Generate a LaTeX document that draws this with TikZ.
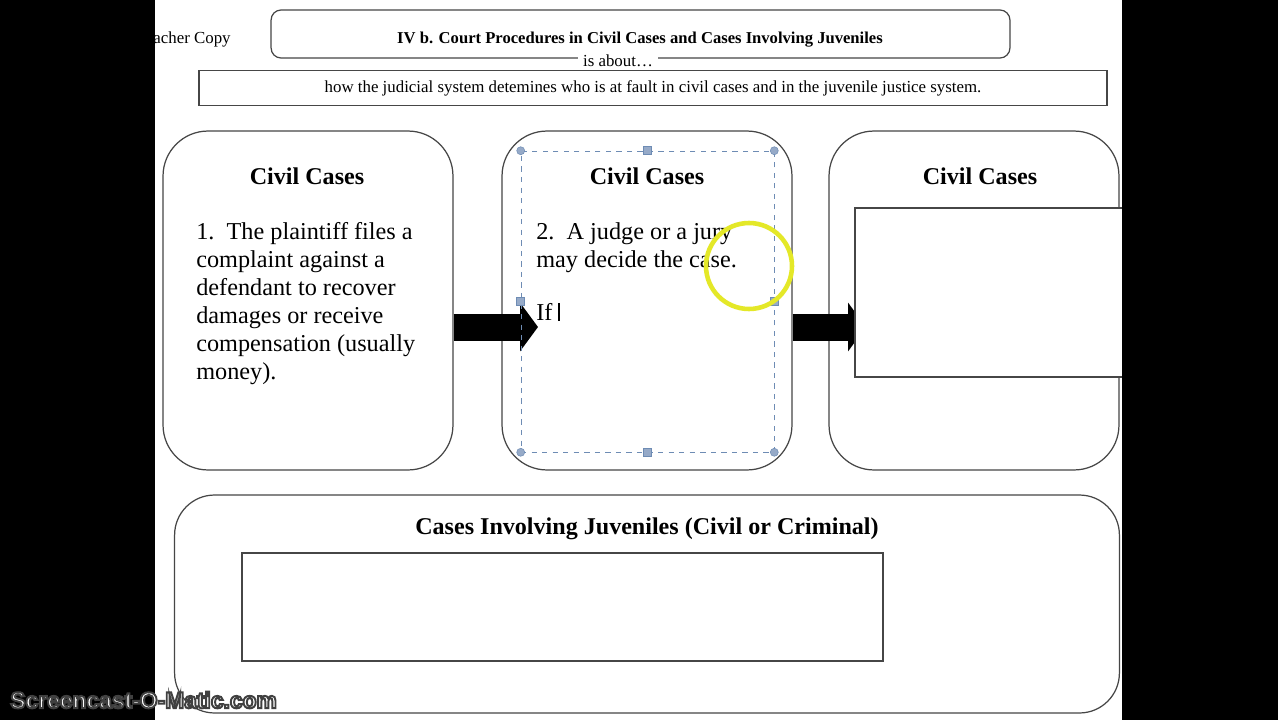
\documentclass[tikz,border=0pt]{standalone}
\usepackage{fontspec}
\setmainfont{Liberation Serif}
\newfontfamily\wmfont{Liberation Sans}
\usepackage{xcolor}
\usetikzlibrary{arrows.meta, positioning}
\definecolor{boxline}{RGB}{70,70,70}
\definecolor{selblue}{RGB}{110,140,180}
\definecolor{handlefill}{RGB}{150,170,200}
\definecolor{ringyellow}{RGB}{228,232,40}

\begin{document}
\begin{tikzpicture}[
    x=0.02cm, y=-0.02cm,
    panel/.style={rectangle, draw=boxline, line width=0.7pt, rounded corners=0.9cm, minimum width=5.8cm, minimum height=6.78cm},
    answer/.style={rectangle, draw=boxline, fill=white, line width=0.7pt},
    head/.style={font=\fontsize{13.7}{15}\selectfont\bfseries},
    body/.style={font=\fontsize{13.8}{15.9}\selectfont, align=left, anchor=north west, inner sep=0pt},
    small/.style={font=\fontsize{9.6}{11}\selectfont},
    bigarrow/.style={line width=0.54cm, -{Triangle[length=0.36cm, width=0.96cm]}},
    handlec/.style={circle, fill=handlefill, draw=selblue, line width=0.3pt, inner sep=0pt, minimum size=0.16cm},
    handles/.style={rectangle, fill=handlefill, draw=selblue, line width=0.3pt, inner sep=0pt, minimum size=0.16cm}
]
\useasboundingbox (0,0) rectangle (1278,720);
\fill[white] (0,0) rectangle (1278,720);

% header
\node[small, anchor=east, inner sep=0pt] (copy) at (231,39) {Teacher Copy};
\node[rectangle, draw=boxline, line width=0.7pt, rounded corners=0.2cm, minimum width=14.78cm, minimum height=0.96cm] (title) at (640.5,34) {};
\node[font=\fontsize{9.45}{11}\selectfont\bfseries] (titletxt) at (640,40) {IV b. Court Procedures in Civil Cases and Cases Involving Juveniles};
\node[small, fill=white, inner xsep=3pt, inner ysep=1pt] (about) at (618,61) {is about\dots};
\node[rectangle, draw=boxline, line width=0.7pt, minimum width=18.16cm, minimum height=0.7cm, small] (summary) at (653,88) {how the judicial system detemines who is at fault in civil cases and in the juvenile justice system.};

% civil cases panels
\node[panel] (c1) at (308,300.5) {};
\node[panel] (c2) at (647,300.5) {};
\node[panel] (c3) at (974,300.5) {};

\node[head] (h1) at (307,176) {Civil Cases};
\node[head] (h2) at (647,176) {Civil Cases};
\node[head] (h3) at (980,176) {Civil Cases};

\node[body] (t1) at (196,222) {1.\ \ The plaintiff files a\\complaint against a\\defendant to recover\\damages or receive\\compensation (usually\\money).};
\node[body] (t2) at (536,222) {2.\ \ A judge or a jury\\may decide the case.};
\node[body, anchor=west] (if) at (536,312) {If};
\draw[line width=0.9pt] ([xshift=0.12cm]if.north east) -- ([xshift=0.12cm]if.south east);

% arrows between panels
\coordinate (a1) at (c1.east |- 0,327);
\coordinate (a2) at (538,327);
\coordinate (b1) at (c2.east |- 0,327);
\coordinate (b2) at (866,327);
\draw[bigarrow] (a1) -- (a2);
\draw[bigarrow] (b1) -- (b2);

\node[answer, minimum width=5.5cm, minimum height=3.38cm] (r3) at (992.5,292.5) {};

% selected text box
\node[rectangle, draw=selblue, dashed, line width=0.35pt, minimum width=5.06cm, minimum height=6.02cm] (sel) at (647.5,301.5) {};
\foreach \a/\n in {north west/1, north east/2, south west/3, south east/4}
    \node[handlec] (hc\n) at (sel.\a) {};
\foreach \a/\n in {north/1, south/2, west/3, east/4}
    \node[handles] (hs\n) at (sel.\a) {};

% mouse ring
\node[circle, draw=ringyellow, line width=2.6pt, minimum size=1.72cm] (ring) at (749,266) {};

% juveniles panel
\node[rectangle, draw=boxline, line width=0.7pt, rounded corners=0.8cm, minimum width=18.9cm, minimum height=4.36cm] (juv) at (647,604) {};
\node[head] (hj) at (647,529) {Cases Involving Juveniles (Civil or Criminal)};
\node[answer, minimum width=12.82cm, minimum height=2.16cm] (rj) at (562.5,607) {};

% screen edges
\fill[black] (0,0) rectangle (155,720);
\fill[black] (1122,0) rectangle (1278,720);

% watermark
\node[anchor=west, inner sep=0pt, text=white, font=\wmfont\fontsize{13}{15}\selectfont\bfseries] (wm) at (10,700)
    {\special{pdf:literal direct 2 Tr 0.25 G 1.1 w}Screencast-O-Matic.com\special{pdf:literal direct 0 Tr}};
\end{tikzpicture}
\end{document}
